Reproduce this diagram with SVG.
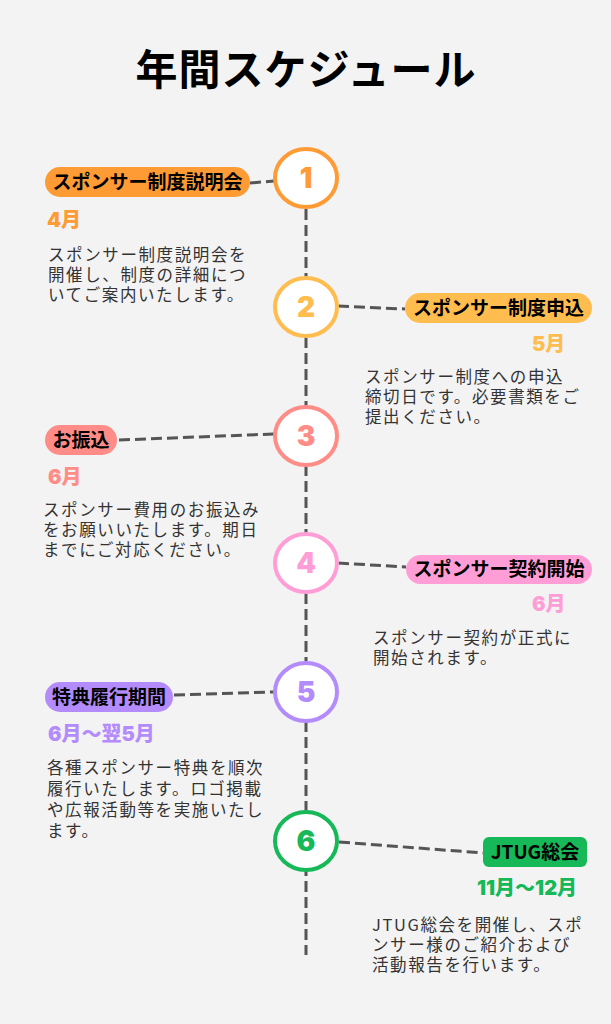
<svg xmlns="http://www.w3.org/2000/svg" width="611" height="1024" viewBox="0 0 611 1024">
<style>
.title{font-family:"Noto Sans CJK JP","Noto Sans",sans-serif;font-weight:700;font-size:42px;fill:#000;letter-spacing:1px}
.pill{font-family:"Noto Sans CJK JP",sans-serif;font-weight:700;font-size:19px;fill:#000}
.num{font-family:Inter,"Noto Sans",sans-serif;font-weight:900;font-size:28px;text-anchor:middle}
.date{font-family:Inter,"Noto Sans CJK JP",sans-serif;font-weight:900;font-size:20px}
.desc{font-family:"Noto Sans CJK JP",sans-serif;font-size:16.5px;fill:#333;letter-spacing:1.6px}
.conn{stroke:#555;stroke-width:3;stroke-dasharray:11 5;fill:none}
.circ{fill:#fff;stroke-width:4}
</style>
<rect width="611" height="1024" fill="#F3F3F3"/>
<text class="title" x="306" y="85" text-anchor="middle">年間スケジュール</text>
<g id="connectors">
<line class="conn" x1="306" y1="209" x2="306" y2="955"/>
<line class="conn" x1="250" y1="183" x2="274" y2="181"/>
<line class="conn" x1="338" y1="306" x2="405" y2="309"/>
<line class="conn" x1="119" y1="440" x2="274" y2="434"/>
<line class="conn" x1="338" y1="563" x2="406" y2="567"/>
<line class="conn" x1="174" y1="695" x2="274" y2="692"/>
<line class="conn" x1="339" y1="842" x2="483" y2="853"/>
</g>
<g id="node1">
<ellipse class="circ" cx="306" cy="178" rx="31" ry="29" stroke="#FF9B35"/>
<text class="num" x="306" y="188" fill="#FF9B35">1</text>
<rect x="45" y="167" width="205" height="30" rx="15" fill="#FF9B35"/>
<text class="pill" x="147.5" y="189" text-anchor="middle">スポンサー制度説明会</text>
<text class="date" x="47" y="227" fill="#FF9B35">4月</text>
<text class="desc" x="48" y="261">スポンサー制度説明会を<tspan x="48" dy="20">開催し、制度の詳細につ</tspan><tspan x="48" dy="20">いてご案内いたします。</tspan></text>
</g>
<g id="node2">
<ellipse class="circ" cx="306" cy="307" rx="31" ry="29" stroke="#FFBD4F"/>
<text class="num" x="306" y="317" fill="#FFBD4F">2</text>
<rect x="405" y="293" width="187" height="30" rx="15" fill="#FFBD4F"/>
<text class="pill" x="498.5" y="315" text-anchor="middle">スポンサー制度申込</text>
<text class="date" x="532" y="351" fill="#FFBD4F">5月</text>
<text class="desc" x="365" y="383">スポンサー制度への申込<tspan x="365" dy="20">締切日です。必要書類をご</tspan><tspan x="365" dy="20">提出ください。</tspan></text>
</g>
<g id="node3">
<ellipse class="circ" cx="306" cy="436" rx="31" ry="29" stroke="#FF8C86"/>
<text class="num" x="306" y="446" fill="#FF8C86">3</text>
<rect x="45" y="425" width="72" height="30" rx="15" fill="#FF8C86"/>
<text class="pill" x="81" y="447" text-anchor="middle">お振込</text>
<text class="date" x="48" y="484" fill="#FF8C86">6月</text>
<text class="desc" x="43" y="516">スポンサー費用のお振込み<tspan x="43" dy="20">をお願いいたします。期日</tspan><tspan x="43" dy="20">までにご対応ください。</tspan></text>
</g>
<g id="node4">
<ellipse class="circ" cx="306" cy="563" rx="31" ry="29" stroke="#FF9ED6"/>
<text class="num" x="306" y="573" fill="#FF9ED6">4</text>
<rect x="406" y="555" width="186" height="29" rx="14.5" fill="#FF9ED6"/>
<text class="pill" x="499" y="576" text-anchor="middle">スポンサー契約開始</text>
<text class="date" x="532" y="611" fill="#FF9ED6">6月</text>
<text class="desc" x="373" y="644">スポンサー契約が正式に<tspan x="373" dy="20">開始されます。</tspan></text>
</g>
<g id="node5">
<ellipse class="circ" cx="306" cy="692" rx="31" ry="29" stroke="#B38BFA"/>
<text class="num" x="306" y="702" fill="#B38BFA">5</text>
<rect x="45" y="682" width="128" height="30" rx="15" fill="#B38BFA"/>
<text class="pill" x="109" y="704" text-anchor="middle">特典履行期間</text>
<text class="date" x="48" y="741" fill="#B38BFA">6月〜翌5月</text>
<text class="desc" x="47" y="774">各種スポンサー特典を順次<tspan x="47" dy="21">履行いたします。ロゴ掲載</tspan><tspan x="47" dy="21">や広報活動等を実施いたし</tspan><tspan x="47" dy="21">ます。</tspan></text>
</g>
<g id="node6">
<ellipse class="circ" cx="306" cy="841" rx="31" ry="29" stroke="#16B857"/>
<text class="num" x="306" y="851" fill="#16B857">6</text>
<rect x="483" y="837" width="104" height="30" rx="6" fill="#16B857"/>
<text class="pill" x="535" y="859" text-anchor="middle">JTUG総会</text>
<text class="date" x="477" y="895" fill="#16B857">11月〜12月</text>
<text class="desc" x="372" y="931">JTUG総会を開催し、スポ<tspan x="372" dy="20">ンサー様のご紹介および</tspan><tspan x="372" dy="20">活動報告を行います。</tspan></text>
</g>
</svg>
